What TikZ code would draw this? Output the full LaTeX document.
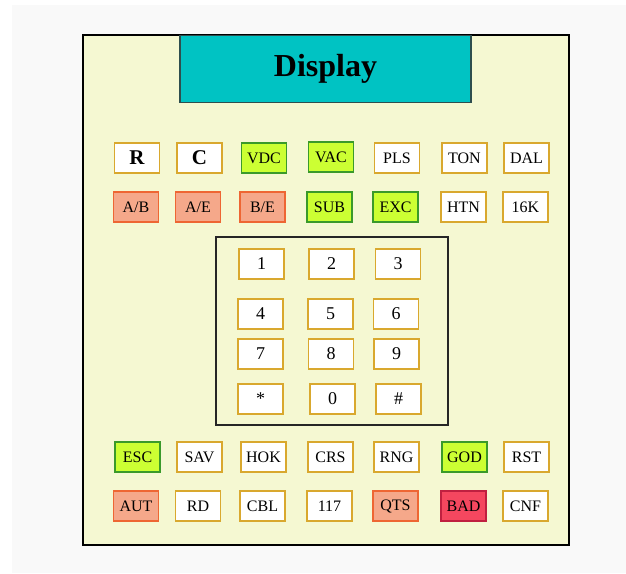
\documentclass[tikz,border=0pt]{standalone}
\usepackage{fontspec}
\setmainfont{Liberation Serif}
\definecolor{bgstripe}{HTML}{F9F9F9}
\definecolor{panelfill}{HTML}{F5F8D2}
\definecolor{dispfill}{HTML}{00C3C3}
\definecolor{dispdraw}{HTML}{2E4E4E}
\definecolor{golddraw}{HTML}{D9A82E}
\definecolor{greenfill}{HTML}{CCFF33}
\definecolor{greendraw}{HTML}{3A9A2A}
\definecolor{salmonfill}{HTML}{F5A88A}
\definecolor{salmondraw}{HTML}{EE6633}
\definecolor{redfill}{HTML}{F5475F}
\definecolor{reddraw}{HTML}{C02040}
\tikzset{
  key/.style={minimum width=45pt,minimum height=30pt,inner sep=0pt,line width=1.2pt,font=\fontsize{16}{16}\selectfont},
  wbox/.style={key,draw=golddraw,fill=white},
  gbox/.style={key,draw=greendraw,fill=greenfill},
  sbox/.style={key,draw=salmondraw,fill=salmonfill},
  rbox/.style={key,draw=reddraw,fill=redfill},
  bigkey/.style={wbox,font=\fontsize{21}{21}\selectfont\bfseries},
  digit/.style={wbox,font=\fontsize{18}{18}\selectfont}
}
\begin{document}
\begin{tikzpicture}[x=1pt,y=-1pt]
\useasboundingbox (0,0) rectangle (626,573);
\fill[white] (0,0) rectangle (626,573);
\fill[bgstripe] (12,5) rectangle (626,573);
% panel
\node[draw=black,line width=2pt,fill=panelfill,minimum width=486pt,minimum height=510pt,inner sep=0pt] (panel) at (326,290) {};
% display
\node[draw=dispdraw,line width=1.5pt,fill=dispfill,minimum width=291pt,minimum height=67pt,inner sep=0pt,font=\fontsize{32}{32}\selectfont\bfseries] (display) at (325.5,69) {Display};
% keypad frame
\node[draw=black!85,line width=2pt,minimum width=232pt,minimum height=188pt,inner sep=0pt] (pad) at (332,331) {};
% row 1
\node[bigkey] (R) at (137,158) {R};
\node[bigkey] (C) at (199.5,158) {C};
\node[gbox] (VDC) at (264,158) {VDC};
\node[gbox] (VAC) at (331,157) {VAC};
\node[wbox] (PLS) at (397,158) {PLS};
\node[wbox] (TON) at (464.5,158) {TON};
\node[wbox] (DAL) at (526.5,158) {DAL};
% row 2
\node[sbox] (AB) at (136,207) {A/B};
\node[sbox] (AE) at (198,207) {A/E};
\node[sbox] (BE) at (262.5,207) {B/E};
\node[gbox] (SUB) at (329.5,207) {SUB};
\node[gbox] (EXC) at (395.5,207) {EXC};
\node[wbox] (HTN) at (463.5,207) {HTN};
\node[wbox] (K16) at (525.5,207) {16K};
% keypad
\node[digit] (d1) at (261.5,264) {1};
\node[digit] (d2) at (331.5,264) {2};
\node[digit] (d3) at (398,264) {3};
\node[digit] (d4) at (260.5,314) {4};
\node[digit] (d5) at (330.5,314) {5};
\node[digit] (d6) at (396,314) {6};
\node[digit] (d7) at (260.5,354) {7};
\node[digit] (d8) at (331,354) {8};
\node[digit] (d9) at (396.5,354) {9};
\node[digit] (dstar) at (260.5,399) {*};
\node[digit] (d0) at (332.5,399) {0};
\node[digit] (dhash) at (398.5,399) {\#};
% row 3
\node[gbox] (ESC) at (137.5,457) {ESC};
\node[wbox] (SAV) at (199.5,457) {SAV};
\node[wbox] (HOK) at (263.5,457) {HOK};
\node[wbox] (CRS) at (330.5,457) {CRS};
\node[wbox] (RNG) at (396.5,457) {RNG};
\node[gbox] (GOD) at (464.5,457) {GOD};
\node[wbox] (RST) at (526.5,457) {RST};
% row 4
\node[sbox] (AUT) at (136,506) {AUT};
\node[wbox] (RD) at (198,506) {RD};
\node[wbox] (CBL) at (262.5,506) {CBL};
\node[wbox] (n117) at (329.5,506) {117};
\node[sbox] (QTS) at (395.5,506) {QTS};
\node[rbox] (BAD) at (463.5,506) {BAD};
\node[wbox] (CNF) at (525.5,506) {CNF};
\end{tikzpicture}
\end{document}
